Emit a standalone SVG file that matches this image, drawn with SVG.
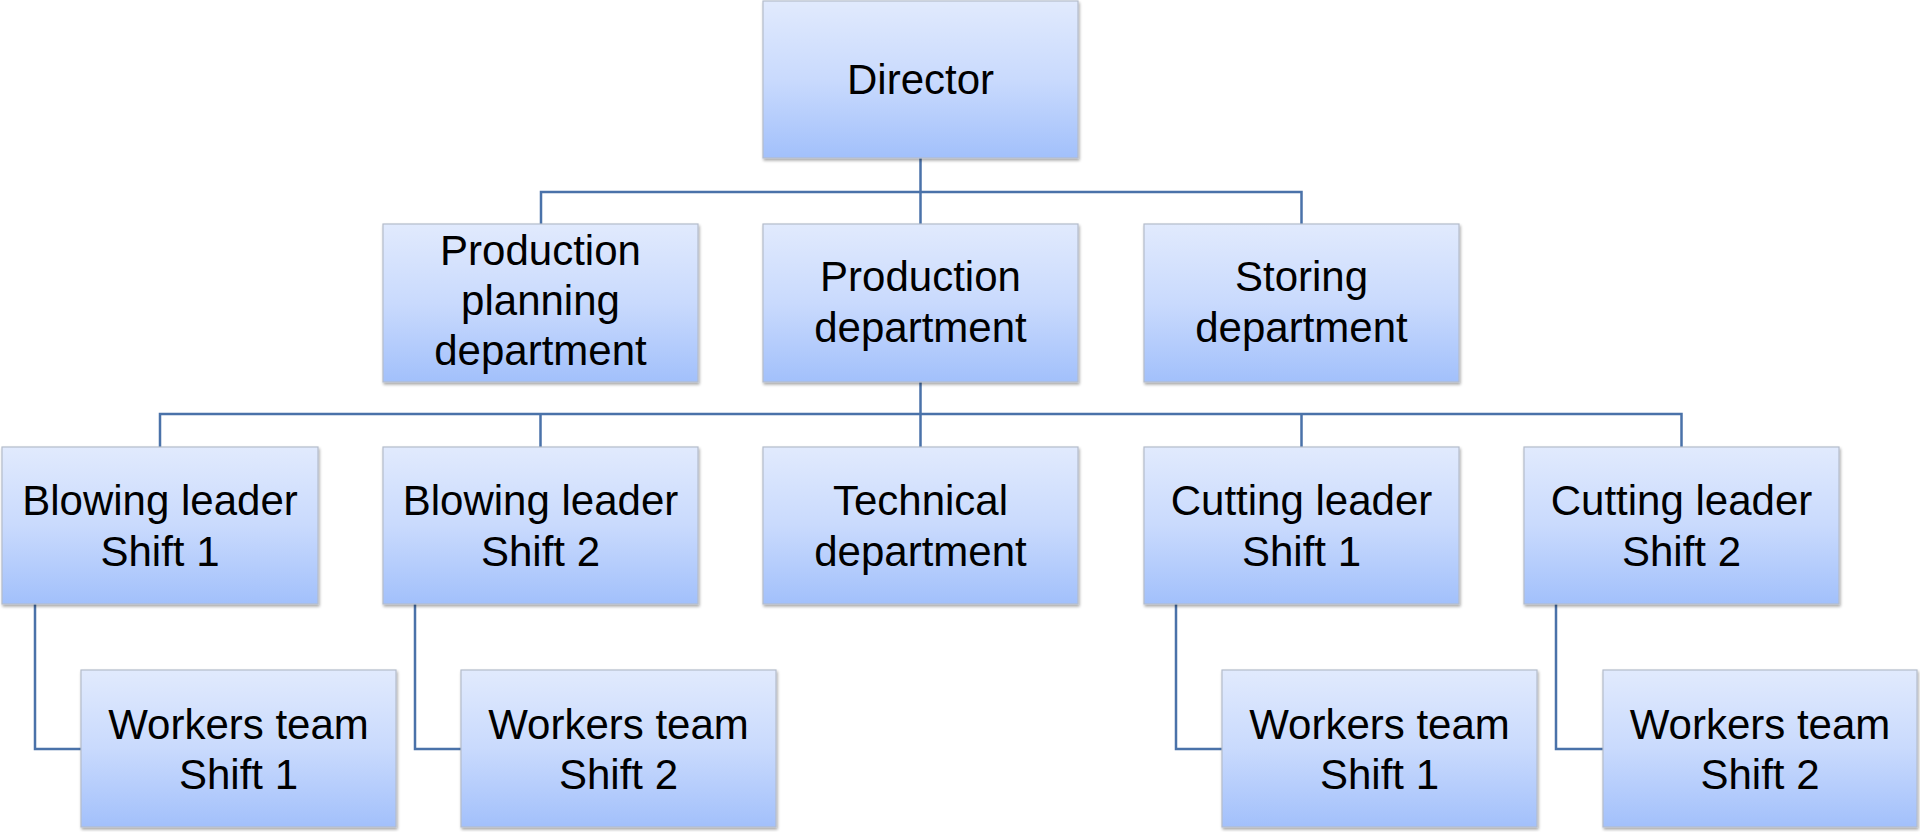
<svg xmlns="http://www.w3.org/2000/svg" width="1920" height="832" viewBox="0 0 1920 832">
<defs>
<linearGradient id="g" x1="0" y1="0" x2="0" y2="1">
<stop offset="0" stop-color="#e1eafd"/>
<stop offset="0.5" stop-color="#c9dafd"/>
<stop offset="1" stop-color="#a2c0fb"/>
</linearGradient>
<filter id="sh" x="-5%" y="-5%" width="110%" height="115%">
<feGaussianBlur in="SourceAlpha" stdDeviation="1.5"/>
<feOffset dx="1" dy="2" result="b"/>
<feComponentTransfer><feFuncA type="linear" slope="0.35"/></feComponentTransfer>
<feMerge><feMergeNode/><feMergeNode in="SourceGraphic"/></feMerge>
</filter>
</defs>
<style>
.box{fill:url(#g);stroke:#b4bccb;stroke-width:1.2;filter:url(#sh)}
.t{font-family:"Liberation Sans",Arial,sans-serif;font-size:42px;fill:#000;text-anchor:middle}
.c{fill:none;stroke:#4a72a9;stroke-width:2.5}
</style>
<rect width="1920" height="832" fill="#ffffff"/>
<g id="connectors">
<path class="c" d="M920.5 158 V224 M541 224 V192 H1301.5 V224"/>
<path class="c" d="M920.5 382 V447 M160 447 V414 H1681.5 V447 M540.5 414 V447 M1301.5 414 V447"/>
<path class="c" d="M35 604 V749 H81"/>
<path class="c" d="M415 604 V749 H461"/>
<path class="c" d="M1176 604 V749 H1222"/>
<path class="c" d="M1556 604 V749 H1603"/>
</g>
<g id="director"><rect class="box" x="763" y="1" width="315" height="157"/><text class="t" x="920.5" y="94">Director</text></g>
<g id="planning"><rect class="box" x="383" y="224" width="315" height="158"/><text class="t" x="540.5" y="265">Production</text><text class="t" x="540.5" y="315">planning</text><text class="t" x="540.5" y="365">department</text></g>
<g id="production"><rect class="box" x="763" y="224" width="315" height="158"/><text class="t" x="920.5" y="291">Production</text><text class="t" x="920.5" y="342">department</text></g>
<g id="storing"><rect class="box" x="1144" y="224" width="315" height="158"/><text class="t" x="1301.5" y="291">Storing</text><text class="t" x="1301.5" y="342">department</text></g>
<g id="blowing1"><rect class="box" x="2" y="447" width="316" height="157"/><text class="t" x="160" y="515">Blowing leader</text><text class="t" x="160" y="566">Shift 1</text></g>
<g id="blowing2"><rect class="box" x="383" y="447" width="315" height="157"/><text class="t" x="540.5" y="515">Blowing leader</text><text class="t" x="540.5" y="566">Shift 2</text></g>
<g id="technical"><rect class="box" x="763" y="447" width="315" height="157"/><text class="t" x="920.5" y="515">Technical</text><text class="t" x="920.5" y="566">department</text></g>
<g id="cutting1"><rect class="box" x="1144" y="447" width="315" height="157"/><text class="t" x="1301.5" y="515">Cutting leader</text><text class="t" x="1301.5" y="566">Shift 1</text></g>
<g id="cutting2"><rect class="box" x="1524" y="447" width="315" height="157"/><text class="t" x="1681.5" y="515">Cutting leader</text><text class="t" x="1681.5" y="566">Shift 2</text></g>
<g id="workers1"><rect class="box" x="81" y="670" width="315" height="157"/><text class="t" x="238.5" y="739">Workers team</text><text class="t" x="238.5" y="789">Shift 1</text></g>
<g id="workers2"><rect class="box" x="461" y="670" width="315" height="157"/><text class="t" x="618.5" y="739">Workers team</text><text class="t" x="618.5" y="789">Shift 2</text></g>
<g id="workers3"><rect class="box" x="1222" y="670" width="315" height="157"/><text class="t" x="1379.5" y="739">Workers team</text><text class="t" x="1379.5" y="789">Shift 1</text></g>
<g id="workers4"><rect class="box" x="1603" y="670" width="314" height="157"/><text class="t" x="1760" y="739">Workers team</text><text class="t" x="1760" y="789">Shift 2</text></g>
</svg>
